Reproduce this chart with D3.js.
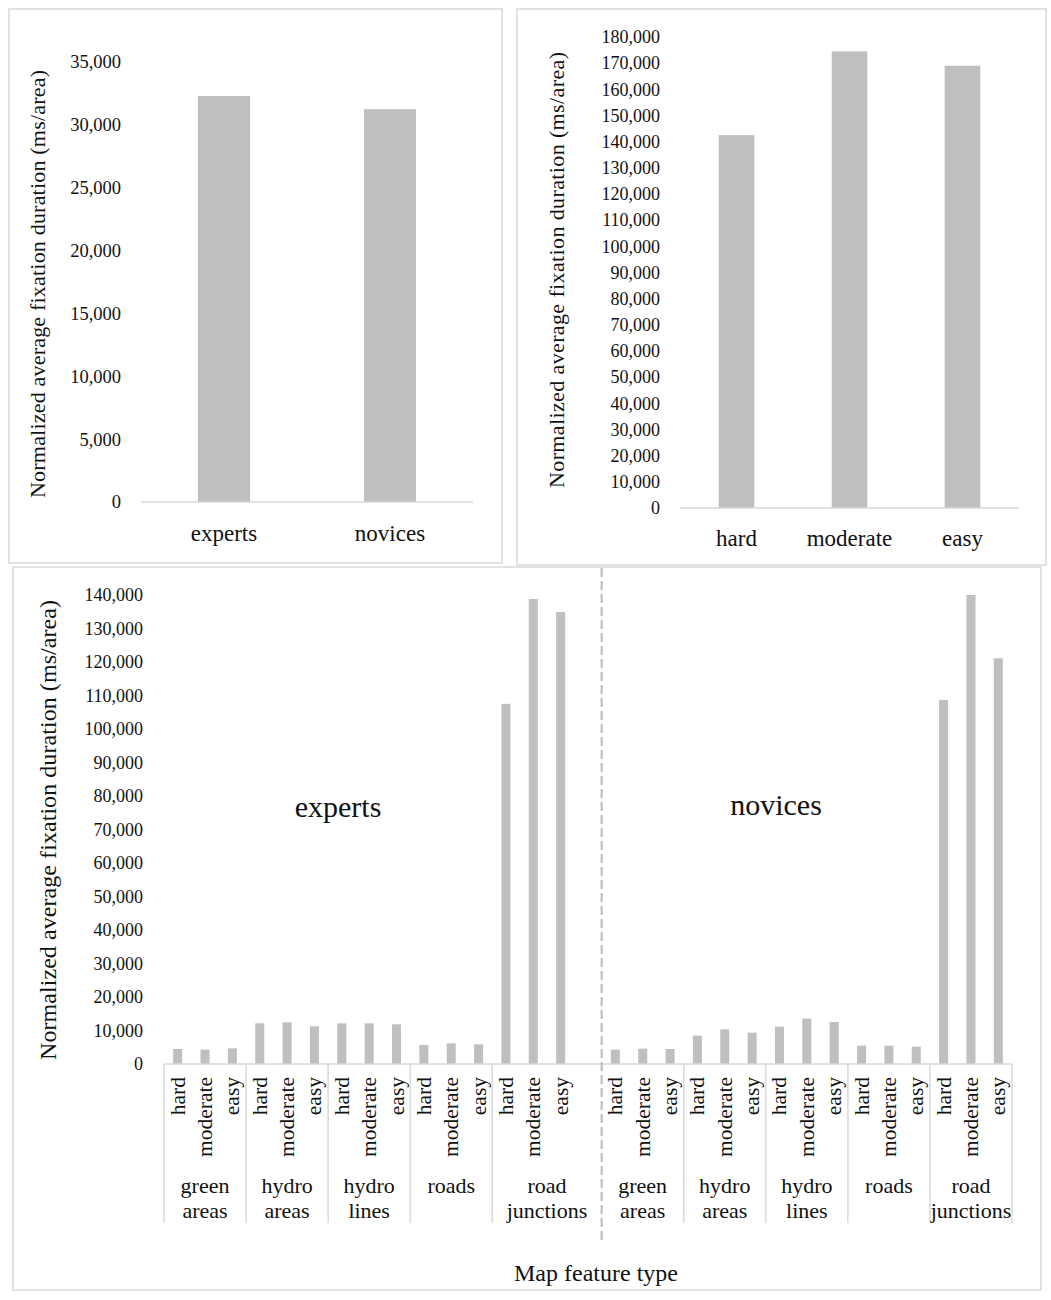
<!DOCTYPE html>
<html>
<head>
<meta charset="utf-8">
<script src="https://cdn.jsdelivr.net/npm/d3@7"></script>
<style>
  html, body { margin: 0; padding: 0; background: #fff; }
  text { font-family: "Liberation Serif", "Times New Roman", serif; fill: #111; }
</style>
</head>
<body>
<svg id="chart" width="1051" height="1300"></svg>
<script>
// ---------- DATA ----------
const expertiseGroups = ["experts", "novices"];
const expertiseValues = [32300, 31250];
const expertiseTicks = [0, 5000, 10000, 15000, 20000, 25000, 30000, 35000];

const difficultyLevels = ["hard", "moderate", "easy"];
const difficultyValues = [142500, 174500, 169000];
const difficultyTicks = [0, 10000, 20000, 30000, 40000, 50000, 60000, 70000, 80000, 90000,
  100000, 110000, 120000, 130000, 140000, 150000, 160000, 170000, 180000];

const featureTypes = [["green", "areas"], ["hydro", "areas"], ["hydro", "lines"], ["roads"], ["road", "junctions"]];
const expertFeatureValues = [4480, 4280, 4680, 12150, 12450, 11250, 12150, 12150, 11850, 5680, 6180, 5880, 107500, 138800, 134900];
const noviceFeatureValues = [4280, 4580, 4480, 8470, 10360, 9360, 11150, 13550, 12550, 5480, 5480, 5180, 108700, 140000, 121100];
const featureTicks = [0, 10000, 20000, 30000, 40000, 50000, 60000, 70000, 80000, 90000,
  100000, 110000, 120000, 130000, 140000];

const yTitle = "Normalized average fixation duration (ms/area)";
const xTitleBottom = "Map feature type";

// ---------- STYLE ----------
const BAR = "#bfbfbf";
const LINE = "#d9d9d9";
const fmt = d3.format(",");

const svg = d3.select("#chart");
svg.append("rect").attr("width", 1051).attr("height", 1300).attr("fill", "#fff");

function panelBorder(x0, y0, x1, y1) {
  svg.append("rect").attr("x", x0).attr("y", y0).attr("width", x1 - x0).attr("height", y1 - y0)
    .attr("fill", "none").attr("stroke", LINE).attr("stroke-width", 1.5);
}

function yAxis(g, scale, ticks, padding, fontSize) {
  const ax = d3.axisLeft(scale).tickValues(ticks).tickFormat(fmt).tickSize(0).tickPadding(padding);
  g.call(ax);
  g.select(".domain").remove();
  g.selectAll("text").attr("font-family", "Liberation Serif").attr("font-size", fontSize).attr("fill", "#111");
}

function baseLine(g, scale, y) {
  const r = scale.range();
  g.append("line").attr("x1", r[0]).attr("x2", r[1]).attr("y1", y).attr("y2", y)
    .attr("stroke", LINE).attr("stroke-width", 1.5);
}

function rotatedTitle(x, y, size, len) {
  svg.append("text").attr("transform", `translate(${x},${y}) rotate(-90)`)
    .attr("text-anchor", "middle").attr("dominant-baseline", "central")
    .attr("font-size", size).attr("textLength", len).attr("lengthAdjust", "spacing")
    .text(yTitle);
}

// ---------- PANEL A (top-left) ----------
panelBorder(9, 9, 502, 563);
{
  const x = d3.scaleBand().domain(expertiseGroups).range([141, 473]).paddingInner(0.687).paddingOuter(0.3435);
  const y = d3.scaleLinear().domain([0, 35000]).range([502, 62]);
  const g = svg.append("g");
  g.selectAll("rect.bar").data(expertiseGroups).join("rect").attr("class", "bar")
    .attr("x", d => x(d)).attr("width", x.bandwidth())
    .attr("y", (d, i) => y(expertiseValues[i])).attr("height", (d, i) => y(0) - y(expertiseValues[i]))
    .attr("fill", BAR);
  baseLine(g, x, y(0));
  const ya = g.append("g").attr("transform", `translate(${x.range()[0]},0)`);
  yAxis(ya, y, expertiseTicks, 20, 18.5);
  g.selectAll("text.cat").data(expertiseGroups).join("text").attr("class", "cat")
    .attr("x", d => x(d) + x.bandwidth() / 2).attr("y", 541).attr("text-anchor", "middle")
    .attr("font-size", 23).text(d => d);
  rotatedTitle(37, 284, 22, 428);
}

// ---------- PANEL B (top-right) ----------
panelBorder(517, 9, 1046, 565);
{
  const x = d3.scaleBand().domain(difficultyLevels).range([680, 1019]).paddingInner(0.685).paddingOuter(0.3425);
  const y = d3.scaleLinear().domain([0, 180000]).range([508, 37]);
  const g = svg.append("g");
  g.selectAll("rect.bar").data(difficultyLevels).join("rect").attr("class", "bar")
    .attr("x", d => x(d)).attr("width", x.bandwidth())
    .attr("y", (d, i) => y(difficultyValues[i])).attr("height", (d, i) => y(0) - y(difficultyValues[i]))
    .attr("fill", BAR);
  baseLine(g, x, y(0));
  const ya = g.append("g").attr("transform", `translate(${x.range()[0]},0)`);
  yAxis(ya, y, difficultyTicks, 20, 18);
  g.selectAll("text.cat").data(difficultyLevels).join("text").attr("class", "cat")
    .attr("x", d => x(d) + x.bandwidth() / 2).attr("y", 546).attr("text-anchor", "middle")
    .attr("font-size", 23).text(d => d);
  rotatedTitle(556, 270, 22, 436);
}

// ---------- PANEL C (bottom) ----------
panelBorder(13, 567, 1041, 1290);
{
  const cats = [];
  featureTypes.forEach((f, gi) => difficultyLevels.forEach((d, di) =>
    cats.push({ key: `e-${gi}-${di}`, side: "e", gi, di, label: d, value: expertFeatureValues[gi * 3 + di] })));
  cats.push({ key: "blank", side: "e", gi: 4, di: 3, label: "", value: null });
  featureTypes.forEach((f, gi) => difficultyLevels.forEach((d, di) =>
    cats.push({ key: `n-${gi}-${di}`, side: "n", gi, di, label: d, value: noviceFeatureValues[gi * 3 + di] })));

  const x = d3.scaleBand().domain(cats.map(c => c.key)).range([164, 1012]).paddingInner(0.67).paddingOuter(0.335);
  const y = d3.scaleLinear().domain([0, 140000]).range([1064, 595]);
  const step = x.step();
  const off = (step - x.bandwidth()) / 2;
  const g = svg.append("g");

  const barCats = cats.filter(c => c.value !== null);
  g.selectAll("rect.bar").data(barCats).join("rect").attr("class", "bar")
    .attr("x", c => x(c.key)).attr("width", x.bandwidth())
    .attr("y", c => y(c.value)).attr("height", c => y(0) - y(c.value))
    .attr("fill", BAR);

  baseLine(g, x, y(0));
  const ya = g.append("g").attr("transform", `translate(${x.range()[0]},0)`);
  yAxis(ya, y, featureTicks, 21, 18);

  g.selectAll("text.sub").data(barCats).join("text").attr("class", "sub")
    .attr("transform", c => `translate(${x(c.key) + x.bandwidth() / 2},1077) rotate(-90)`)
    .attr("text-anchor", "end").attr("dominant-baseline", "central")
    .attr("font-size", 21.5).text(c => c.label);

  const groups = [];
  ["e", "n"].forEach(side => featureTypes.forEach((f, gi) => {
    const members = cats.filter(c => c.side === side && c.gi === gi);
    const start = x(members[0].key) - off;
    const end = x(members[members.length - 1].key) - off + step;
    groups.push({ side, gi, lines: f, start, end });
  }));
  const bounds = [];
  groups.forEach((gr, i) => {
    if (i === 0 || groups[i - 1].side === gr.side) bounds.push(gr.start);
  });
  bounds.push(groups[groups.length - 1].end);
  g.selectAll("line.sep").data(bounds).join("line").attr("class", "sep")
    .attr("x1", d => d).attr("x2", d => d).attr("y1", y(0)).attr("y2", 1223)
    .attr("stroke", LINE).attr("stroke-width", 1.5);

  groups.forEach(gr => {
    const cx = (gr.start + gr.end) / 2;
    gr.lines.forEach((t, li) => {
      g.append("text").attr("x", cx).attr("y", 1193 + li * 25).attr("text-anchor", "middle")
        .attr("font-size", 22).text(t);
    });
  });

  const divX = x("n-0-0") - off;
  g.append("line").attr("x1", divX).attr("x2", divX).attr("y1", 568).attr("y2", 1243)
    .attr("stroke", "#bfbfbf").attr("stroke-width", 2.2).attr("stroke-dasharray", "9,4");

  g.append("text").attr("x", 338).attr("y", 817).attr("text-anchor", "middle").attr("font-size", 30).text(expertiseGroups[0]);
  g.append("text").attr("x", 776).attr("y", 815).attr("text-anchor", "middle").attr("font-size", 30).text(expertiseGroups[1]);

  g.append("text").attr("x", 596).attr("y", 1281).attr("text-anchor", "middle").attr("font-size", 24).text(xTitleBottom);
  rotatedTitle(48, 830, 24, 460);
}
</script>
</body>
</html>
